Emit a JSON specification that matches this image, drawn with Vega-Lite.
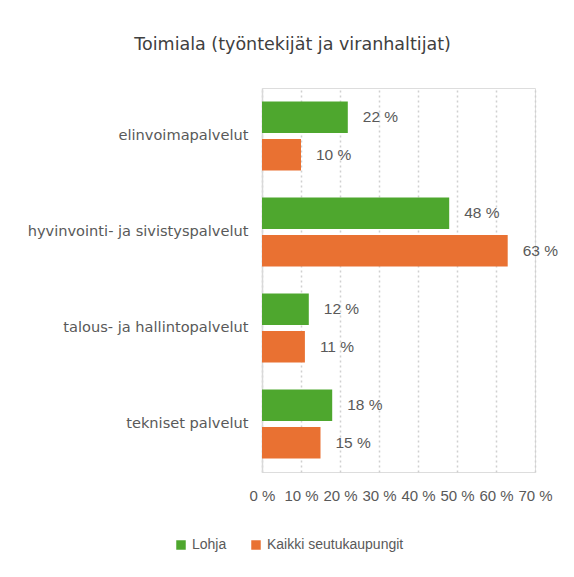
{
  "$schema": "https://vega.github.io/schema/vega-lite/v6.json",
  "autosize": "none",
  "width": 273,
  "height": 384,
  "padding": {"left": 262, "top": 88, "right": 39, "bottom": 105},
  "background": "white",
  "title": {
    "text": "Toimiala (työntekijät ja viranhaltijat)",
    "anchor": "middle",
    "frame": "bounds",
    "font": "DejaVu Sans",
    "fontSize": 17.5,
    "fontWeight": "normal",
    "color": "#404040",
    "offset": 35
  },
  "data": {
    "values": [
      {"toimiala": "elinvoimapalvelut", "sarja": "Lohja", "osuus": 0.22},
      {"toimiala": "elinvoimapalvelut", "sarja": "Kaikki seutukaupungit", "osuus": 0.10},
      {"toimiala": "hyvinvointi- ja sivistyspalvelut", "sarja": "Lohja", "osuus": 0.48},
      {"toimiala": "hyvinvointi- ja sivistyspalvelut", "sarja": "Kaikki seutukaupungit", "osuus": 0.63},
      {"toimiala": "talous- ja hallintopalvelut", "sarja": "Lohja", "osuus": 0.12},
      {"toimiala": "talous- ja hallintopalvelut", "sarja": "Kaikki seutukaupungit", "osuus": 0.11},
      {"toimiala": "tekniset palvelut", "sarja": "Lohja", "osuus": 0.18},
      {"toimiala": "tekniset palvelut", "sarja": "Kaikki seutukaupungit", "osuus": 0.15}
    ]
  },
  "encoding": {
    "y": {
      "field": "toimiala",
      "type": "nominal",
      "sort": null,
      "scale": {"paddingInner": 0.28, "paddingOuter": 0.14},
      "axis": {
        "title": null,
        "ticks": false,
        "domainColor": "#d9d9d9",
        "domainWidth": 1.5,
        "labelFont": "DejaVu Sans",
        "labelFontSize": 14.6,
        "labelColor": "#595959",
        "labelPadding": 14,
        "labelLimit": 300
      }
    },
    "yOffset": {
      "field": "sarja",
      "type": "nominal",
      "sort": ["Lohja", "Kaikki seutukaupungit"],
      "scale": {"paddingInner": 0.16}
    },
    "x": {
      "field": "osuus",
      "type": "quantitative",
      "scale": {"domain": [0, 0.7], "nice": false},
      "axis": {
        "title": null,
        "values": [0, 0.1, 0.2, 0.3, 0.4, 0.5, 0.6, 0.7],
        "labelExpr": "format(datum.value*100, '.0f') + ' %'",
        "domain": false,
        "ticks": false,
        "grid": true,
        "gridColor": "#d0d0d0",
        "gridDash": [2, 3],
        "gridWidth": 1.5,
        "labelFont": "Liberation Sans",
        "labelFontSize": 15,
        "labelColor": "#595959",
        "labelPadding": 16,
        "labelFlush": false
      }
    }
  },
  "layer": [
    {
      "mark": {"type": "bar"},
      "encoding": {
        "color": {
          "field": "sarja",
          "type": "nominal",
          "sort": ["Lohja", "Kaikki seutukaupungit"],
          "scale": {"domain": ["Lohja", "Kaikki seutukaupungit"], "range": ["#4EA72E", "#E97132"]},
          "legend": {
            "title": null,
            "orient": "none",
            "direction": "horizontal",
            "legendX": -88,
            "legendY": 450,
            "symbolType": "square",
            "symbolSize": 90,
            "symbolStrokeWidth": 0,
            "labelFont": "Liberation Sans",
            "labelFontSize": 14,
            "labelColor": "#595959",
            "columnPadding": 22,
            "labelOffset": 4
          }
        }
      }
    },
    {
      "transform": [
        {"calculate": "format(datum.osuus*100, '.0f') + ' %'", "as": "teksti"}
      ],
      "mark": {"type": "text", "align": "left", "dx": 15, "font": "Liberation Sans", "fontSize": 15.5, "color": "#595959"},
      "encoding": {
        "text": {"field": "teksti", "type": "nominal"}
      }
    }
  ]
}
